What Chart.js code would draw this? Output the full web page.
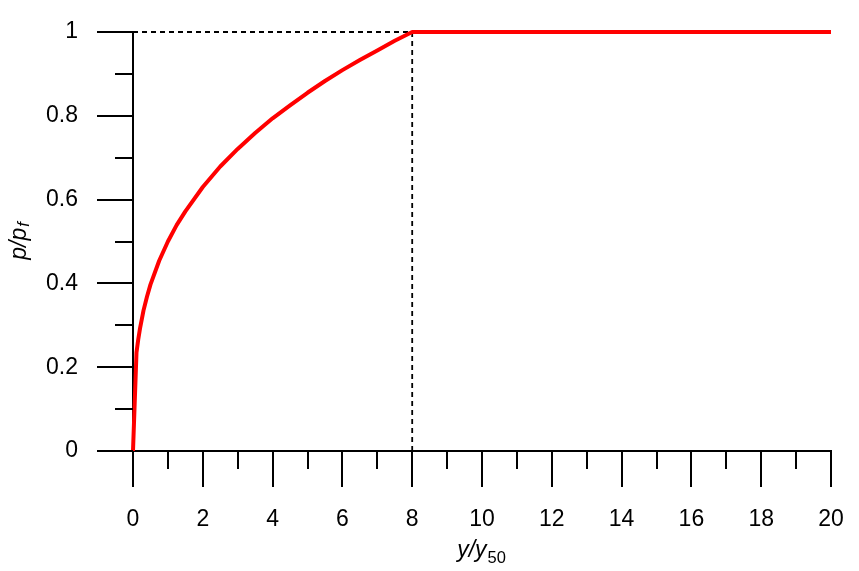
<!DOCTYPE html>
<html>
<head>
<meta charset="utf-8">
<script src="https://cdn.jsdelivr.net/npm/chart.js@4.4.1/dist/chart.umd.min.js"></script>
<style>
  html, body { margin: 0; padding: 0; background: #fff; }
  #wrap { width: 859px; height: 571px; }
</style>
</head>
<body>
<div id="wrap"><canvas id="pyChart"></canvas></div>
<script>
// p-y curve: y/y50 vs p/pf
const yRatio = [0, 0.1, 0.15, 0.2, 0.3, 0.4, 0.5, 0.75, 1, 1.25, 1.5, 2, 2.5, 3, 3.5, 4, 4.5, 5, 5.5, 6, 6.5, 7, 7.5, 8, 20];
const pRatio = [0, 0.235, 0.266, 0.292, 0.335, 0.368, 0.397, 0.454, 0.5, 0.539, 0.572, 0.63, 0.679, 0.721, 0.759, 0.794, 0.825, 0.855, 0.883, 0.909, 0.933, 0.956, 0.979, 1, 1];

// dashed guides to the point where the curve reaches pf
const guideH = [[0, 1], [8, 1]];
const guideV = [[8, 0], [8, 1]];

const xTickValues = [0, 2, 4, 6, 8, 10, 12, 14, 16, 18, 20];
const xTickLabels = ['0', '2', '4', '6', '8', '10', '12', '14', '16', '18', '20'];
const yTickValues = [0, 0.2, 0.4, 0.6, 0.8, 1];
const yTickLabels = ['0', '0.2', '0.4', '0.6', '0.8', '1'];

const FONT = "'Liberation Sans', Arial, sans-serif";

// major/minor tick marks drawn outside the axes
const tickMarks = {
  id: 'tickMarks',
  afterDraw(chart){
    const ctx = chart.ctx;
    const xs = chart.scales.x, ys = chart.scales.y;
    const left = chart.chartArea.left, bottom = chart.chartArea.bottom;
    ctx.save();
    ctx.strokeStyle = '#000';
    ctx.lineWidth = 2;
    ctx.beginPath();
    for (let i = 0; i <= 20; i++) {
      const px = Math.round(xs.getPixelForValue(i));
      const len = i % 2 === 0 ? 36 : 18;
      ctx.moveTo(px, bottom);
      ctx.lineTo(px, bottom + len);
    }
    for (let i = 0; i <= 10; i++) {
      const py = Math.round(ys.getPixelForValue(i / 10));
      const len = i % 2 === 0 ? 36 : 18;
      ctx.moveTo(left, py);
      ctx.lineTo(left - len, py);
    }
    ctx.stroke();
    ctx.restore();
  }
};

// axis titles with italic symbols and subscripts
const axisTitles = {
  id: 'axisTitles',
  afterDraw(chart){
    const ctx = chart.ctx;
    ctx.save();
    ctx.fillStyle = '#000';
    ctx.textBaseline = 'alphabetic';
    const main = 'italic 23px ' + FONT;

    // x title: y/y50
    const sub = '16.5px ' + FONT;
    ctx.font = main;
    const w1 = ctx.measureText('y/y').width;
    ctx.font = sub;
    const w2 = ctx.measureText('50').width;
    const x0 = 481 - (w1 + w2) / 2;
    ctx.font = main;
    ctx.fillText('y/y', x0, 557);
    ctx.font = sub;
    ctx.fillText('50', x0 + w1 + 1, 563);

    // y title: p/pf (rotated)
    ctx.translate(26, 241.5);
    ctx.rotate(-Math.PI / 2);
    ctx.font = main;
    const w3 = ctx.measureText('p/p').width;
    ctx.font = 'italic 16.5px ' + FONT;
    const w4 = ctx.measureText('f').width;
    const s = -(w3 + w4) / 2;
    ctx.font = main;
    ctx.fillText('p/p', s, 0);
    ctx.font = 'italic 16.5px ' + FONT;
    ctx.fillText('f', s + w3 + 1, 3);
    ctx.restore();
  }
};

const toPts = arr => arr.map(p => ({ x: p[0], y: p[1] }));

new Chart(document.getElementById('pyChart'), {
  type: 'line',
  data: {
    datasets: [
      {
        label: 'p/pf',
        data: yRatio.map((v, i) => ({ x: v, y: pRatio[i] })),
        borderColor: '#ff0000',
        borderWidth: 4,
        pointRadius: 0,
        tension: 0,
        borderJoinStyle: 'round',
        clip: false
      },
      {
        label: 'guide h',
        data: toPts(guideH),
        borderColor: '#000',
        borderWidth: 1.8,
        borderDash: [5, 4],
        pointRadius: 0,
        clip: false
      },
      {
        label: 'guide v',
        data: toPts(guideV),
        borderColor: '#000',
        borderWidth: 1.8,
        borderDash: [5, 4],
        pointRadius: 0,
        clip: false
      }
    ]
  },
  options: {
    responsive: true,
    maintainAspectRatio: false,
    animation: false,
    layout: { padding: { left: 0, right: 28, top: 32, bottom: 0 } },
    plugins: { legend: { display: false }, tooltip: { enabled: false } },
    scales: {
      x: {
        type: 'linear',
        min: 0, max: 20,
        afterFit: s => { s.height = 120; s.paddingLeft = 0; s.paddingRight = 0; },
        afterBuildTicks: s => { s.ticks = xTickValues.map(v => ({ value: v })); },
        grid: { display: false, drawTicks: true, tickLength: 36 },
        border: { display: true, color: '#000', width: 2 },
        ticks: {
          padding: 19,
          color: '#000',
          font: { family: FONT, size: 23 },
          maxRotation: 0,
          callback: v => xTickLabels[xTickValues.indexOf(v)]
        }
      },
      y: {
        type: 'linear',
        min: 0, max: 1,
        afterFit: s => { s.width = 133; s.paddingTop = 0; s.paddingBottom = 0; },
        afterBuildTicks: s => { s.ticks = yTickValues.map(v => ({ value: v })); },
        grid: { display: false, drawTicks: true, tickLength: 36 },
        border: { display: true, color: '#000', width: 2 },
        ticks: {
          padding: 19,
          color: '#000',
          font: { family: FONT, size: 23 },
          callback: v => yTickLabels[yTickValues.indexOf(v)]
        }
      }
    }
  },
  plugins: [tickMarks, axisTitles]
});
</script>
</body>
</html>
